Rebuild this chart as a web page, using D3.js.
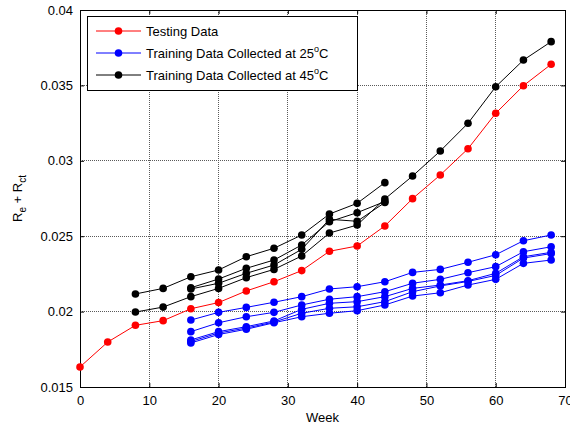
<!DOCTYPE html>
<html>
<head>
<meta charset="utf-8">
<script src="https://cdn.jsdelivr.net/npm/d3@7"></script>
<style>
  body { margin: 0; background: #fff; }
  text { font-family: "Liberation Sans", Arial, sans-serif; }
</style>
</head>
<body>
<svg width="570" height="430"></svg>
<script>
// testing data (red)
const weeks = [0, 4, 8, 12, 16, 20, 24, 28, 32, 36, 40, 44, 48, 52, 56, 60, 64, 68]
const testing = [0.01633, 0.01798, 0.01909, 0.0194, 0.02019, 0.0206, 0.02137, 0.02198, 0.02272,
  0.024, 0.02435, 0.02568, 0.02749, 0.02906, 0.0308, 0.03315, 0.03498, 0.0364]

// training data at 25C (blue), all from week 16
const weeks25 = [16, 20, 24, 28, 32, 36, 40, 44, 48, 52, 56, 60, 64, 68]
const train25 = [
  [0.01944, 0.01995, 0.02028, 0.02062, 0.02099, 0.0215, 0.02165, 0.02198, 0.0226, 0.0228, 0.02327, 0.02377, 0.0247, 0.02508],
  [0.01867, 0.01926, 0.01966, 0.01995, 0.02044, 0.02082, 0.02099, 0.02132, 0.02188, 0.02214, 0.02258, 0.02298, 0.02397, 0.0243],
  [0.01812, 0.01867, 0.019, 0.01938, 0.02015, 0.02055, 0.02066, 0.02099, 0.02154, 0.02176, 0.02205, 0.02254, 0.02364, 0.02393],
  [0.01802, 0.01858, 0.01891, 0.01931, 0.01989, 0.02022, 0.02032, 0.02066, 0.02132, 0.0217, 0.022, 0.0224, 0.02355, 0.02385],
  [0.01792, 0.01848, 0.01883, 0.01926, 0.01966, 0.01989, 0.02006, 0.02044, 0.02103, 0.02125, 0.02176, 0.02214, 0.0232, 0.02342]
]

// training data at 45C (black)
const weeks45a = [8, 12, 16, 20, 24, 28, 32, 36, 40, 44]
const train45a = [0.02117, 0.02154, 0.02231, 0.02276, 0.02364, 0.0242, 0.02508, 0.02647, 0.02718, 0.02855]
const weeks45b = [8, 12, 16, 20, 24, 28, 32, 36, 40, 44, 48, 52, 56, 60, 64, 68]
const train45b = [0.01997, 0.0203, 0.02099, 0.02154, 0.02225, 0.0228, 0.02369, 0.02521, 0.02574, 0.02747,
  0.02899, 0.03065, 0.03249, 0.03491, 0.03668, 0.0379]
const weeks45c = [16, 20, 24, 28, 32, 36, 40, 44]
const train45c = [0.02158, 0.02216, 0.02287, 0.02342, 0.02442, 0.02596, 0.02656, 0.0273]
const train45d = [0.0215, 0.02188, 0.02254, 0.02309, 0.02413, 0.02612, 0.02599, 0.02723]

const xTicks = [0, 10, 20, 30, 40, 50, 60, 70]
const yTicks = [0.015, 0.02, 0.025, 0.03, 0.035, 0.04]
const legendLabels = ['Testing Data', 'Training Data Collected at 25', 'Training Data Collected at 45']

const pLeft = 80, pRight = 565, pTop = 10, pBottom = 387

var svg = d3.select('svg')

var x = d3.scaleLinear().domain([0, 70]).range([pLeft, pRight])
var y = d3.scaleLinear().domain([0.015, 0.04]).range([pBottom, pTop])

// grid
var grid = svg.append('g').attr('class', 'grid')
grid.selectAll('line.gx')
  .data(xTicks.slice(1, -1))
  .enter().append('line').attr('class', 'gx')
  .attr('x1', d => x(d)).attr('x2', d => x(d))
  .attr('y1', pTop).attr('y2', pBottom)
grid.selectAll('line.gy')
  .data(yTicks.slice(1, -1))
  .enter().append('line').attr('class', 'gy')
  .attr('y1', d => y(d)).attr('y2', d => y(d))
  .attr('x1', pLeft).attr('x2', pRight)
grid.selectAll('line')
  .attr('stroke', '#5a5a5a')
  .attr('stroke-width', 1)
  .attr('stroke-dasharray', '1,1')
  .attr('shape-rendering', 'crispEdges')

// axes: ticks point inward on all four sides
var fmtY = d => String(+d.toFixed(3))
svg.append('g')
  .attr('transform', `translate(0,${pBottom})`)
  .call(d3.axisBottom(x).tickValues(xTicks).tickSizeInner(-4).tickSizeOuter(0).tickPadding(9))
svg.append('g')
  .attr('transform', `translate(0,${pTop})`)
  .call(d3.axisTop(x).tickValues(xTicks).tickSizeInner(-4).tickSizeOuter(0).tickFormat(''))
svg.append('g')
  .attr('transform', `translate(${pLeft},0)`)
  .call(d3.axisLeft(y).tickValues(yTicks).tickSizeInner(-4).tickSizeOuter(0).tickPadding(7).tickFormat(fmtY))
svg.append('g')
  .attr('transform', `translate(${pRight},0)`)
  .call(d3.axisRight(y).tickValues(yTicks).tickSizeInner(-4).tickSizeOuter(0).tickFormat(''))

svg.selectAll('.domain').remove()
svg.selectAll('.tick line').attr('stroke', '#000')
svg.selectAll('.tick text')
  .attr('font-size', 13)
  .attr('font-family', '"Liberation Sans", Arial, sans-serif')
  .attr('fill', '#000')

svg.append('rect')
  .attr('x', pLeft).attr('y', pTop)
  .attr('width', pRight - pLeft).attr('height', pBottom - pTop)
  .attr('fill', 'none').attr('stroke', '#000').attr('stroke-width', 1)
  .attr('shape-rendering', 'crispEdges')

// series
var line = d3.line().x(d => x(d[0])).y(d => y(d[1]))

function drawSeries(wk, vals, color) {
  var pts = wk.map((w, i) => [w, vals[i]])
  var g = svg.append('g')
  g.append('path')
    .datum(pts)
    .attr('d', line)
    .attr('fill', 'none')
    .attr('stroke', color)
    .attr('stroke-width', 1)
  g.selectAll('circle')
    .data(pts)
    .enter().append('circle')
    .attr('cx', d => x(d[0]))
    .attr('cy', d => y(d[1]))
    .attr('r', 3.8)
    .attr('fill', color)
}

train25.forEach(s => drawSeries(weeks25, s, '#0000ff'))
drawSeries(weeks45a, train45a, '#000')
drawSeries(weeks45b, train45b, '#000')
drawSeries(weeks45c, train45c, '#000')
drawSeries(weeks45c, train45d, '#000')
drawSeries(weeks, testing, '#ff0000')

// legend
var legend = svg.append('g')
legend.append('rect')
  .attr('x', 87).attr('y', 16).attr('width', 270).attr('height', 74)
  .attr('fill', '#fff').attr('stroke', '#000').attr('stroke-width', 1)
  .attr('shape-rendering', 'crispEdges')

var legColors = ['#ff0000', '#0000ff', '#000']
legendLabels.forEach((lab, i) => {
  var ly = 31 + i * 22
  legend.append('line')
    .attr('x1', 96).attr('x2', 141).attr('y1', ly).attr('y2', ly)
    .attr('stroke', legColors[i]).attr('stroke-width', 1)
  legend.append('circle')
    .attr('cx', 118.5).attr('cy', ly).attr('r', 3.8).attr('fill', legColors[i])
  var t = legend.append('text')
    .attr('x', 146).attr('y', ly + 5)
    .attr('font-size', 13).attr('fill', '#000')
    .text(lab)
  if (i > 0) {
    t.append('tspan').attr('dy', -6).attr('font-size', 9).text('o')
    t.append('tspan').attr('dy', 6).text('C')
  }
})

// axis labels
svg.append('text')
  .attr('x', (pLeft + pRight) / 2).attr('y', 422)
  .attr('text-anchor', 'middle')
  .attr('font-size', 13)
  .text('Week')

var yl = svg.append('text')
  .attr('transform', `translate(22,${(pTop + pBottom) / 2}) rotate(-90)`)
  .attr('text-anchor', 'middle')
  .attr('font-size', 13)
yl.append('tspan').text('R')
yl.append('tspan').attr('dy', 4).attr('font-size', 10).text('e')
yl.append('tspan').attr('dy', -4).text(' + R')
yl.append('tspan').attr('dy', 4).attr('font-size', 10).text('ct')
</script>
</body>
</html>
